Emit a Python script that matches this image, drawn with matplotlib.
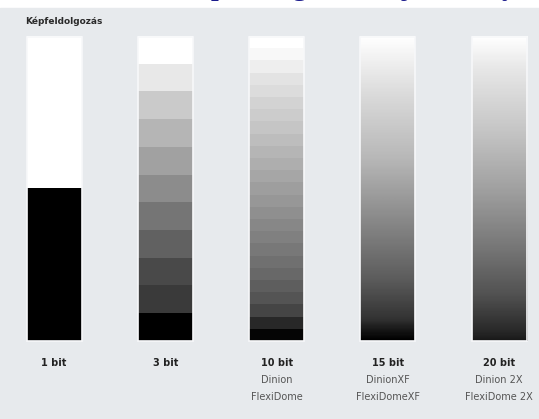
import numpy as np
import matplotlib
matplotlib.use("Agg")
import matplotlib.pyplot as plt
from matplotlib.patches import Rectangle
from matplotlib.colors import LinearSegmentedColormap

# bit depth labels and camera names under each bar
bit_labels = ["1 bit", "3 bit", "10 bit", "15 bit", "20 bit"]
camera_line1 = ["", "", "Dinion", "DinionXF", "Dinion 2X"]
camera_line2 = ["", "", "FlexiDome", "FlexiDomeXF", "FlexiDome 2X"]

# grey levels (1 = white, 0 = black), top to bottom
levels_1bit = [1.0, 0.0]
levels_3bit = [1.0, 0.91, 0.79, 0.71, 0.63, 0.55, 0.46, 0.38, 0.29, 0.23, 0.0]
levels_10bit = [1.0, 0.97, 0.93, 0.89, 0.86, 0.83, 0.80, 0.77, 0.74, 0.71,
                0.68, 0.65, 0.62, 0.59, 0.56, 0.53, 0.50, 0.47, 0.44, 0.41,
                0.37, 0.33, 0.27, 0.16, 0.02]
# smooth gradients: (fraction from top, grey)
stops_15bit = [(0.0, 1.0), (0.08, 0.94), (0.2, 0.85), (0.4, 0.72),
               (0.6, 0.54), (0.8, 0.36), (0.93, 0.2), (0.97, 0.08), (1.0, 0.0)]
stops_20bit = [(0.0, 1.0), (0.1, 0.91), (0.3, 0.78), (0.5, 0.63),
               (0.7, 0.46), (0.85, 0.32), (0.97, 0.16), (1.0, 0.1)]

W, H = 539, 419
fig = plt.figure(figsize=(W / 100, H / 100), dpi=100)
fig.patch.set_facecolor("white")
ax = fig.add_axes([0, 0, 1, 1])
ax.set_xlim(0, W)
ax.set_ylim(H, 0)
ax.axis("off")

bg = "#e7eaed"
ax.add_patch(Rectangle((0, 8), W, H - 8, color=bg, zorder=0))

# page heading, cut off by the top edge (only its lower part shows)
fig.text(177 / W, 1 + 5 / H, "Képfeldolgozási teljesítmény", va="baseline",
         ha="left", family="Liberation Serif", weight="bold", size=20,
         color="#1b1b8c")
ax.text(25, 24, "Képfeldolgozás", fontsize=6.5, weight="bold",
        color="#2a2a2a", va="baseline")

top, bottom = 37, 341
bar_w = 55
x0, step = 54, 111.3


def stops_cmap(stops):
    return LinearSegmentedColormap.from_list(
        "g", [(p, (g, g, g)) for p, g in stops])


for i, lab in enumerate(bit_labels):
    xc = x0 + i * step
    left, right = xc - bar_w / 2, xc + bar_w / 2
    ext = [left, right, bottom, top]
    if i == 0:
        img = np.array(levels_1bit)[:, None]
        ax.imshow(img, cmap="gray", vmin=0, vmax=1, extent=ext,
                  aspect="auto", interpolation="nearest", zorder=2)
    elif i == 1:
        img = np.array(levels_3bit)[:, None]
        ax.imshow(img, cmap="gray", vmin=0, vmax=1, extent=ext,
                  aspect="auto", interpolation="nearest", zorder=2)
    elif i == 2:
        img = np.array(levels_10bit)[:, None]
        ax.imshow(img, cmap="gray", vmin=0, vmax=1, extent=ext,
                  aspect="auto", interpolation="nearest", zorder=2)
    else:
        stops = stops_15bit if i == 3 else stops_20bit
        img = np.linspace(0, 1, 300)[:, None]
        ax.imshow(img, cmap=stops_cmap(stops), vmin=0, vmax=1, extent=ext,
                  aspect="auto", interpolation="bilinear", zorder=2)
    ax.add_patch(Rectangle((left, top), bar_w, bottom - top, fill=False,
                           ec="#f7f8fa", lw=1.2, zorder=3))

    ax.text(xc, 366, lab, ha="center", va="baseline", fontsize=7,
            weight="bold", color="#222222")
    ax.text(xc, 383, camera_line1[i], ha="center", va="baseline",
            fontsize=7, color="#555555")
    ax.text(xc, 400, camera_line2[i], ha="center", va="baseline",
            fontsize=7, color="#555555")

fig.savefig("out.png", dpi=100, facecolor=fig.get_facecolor())
